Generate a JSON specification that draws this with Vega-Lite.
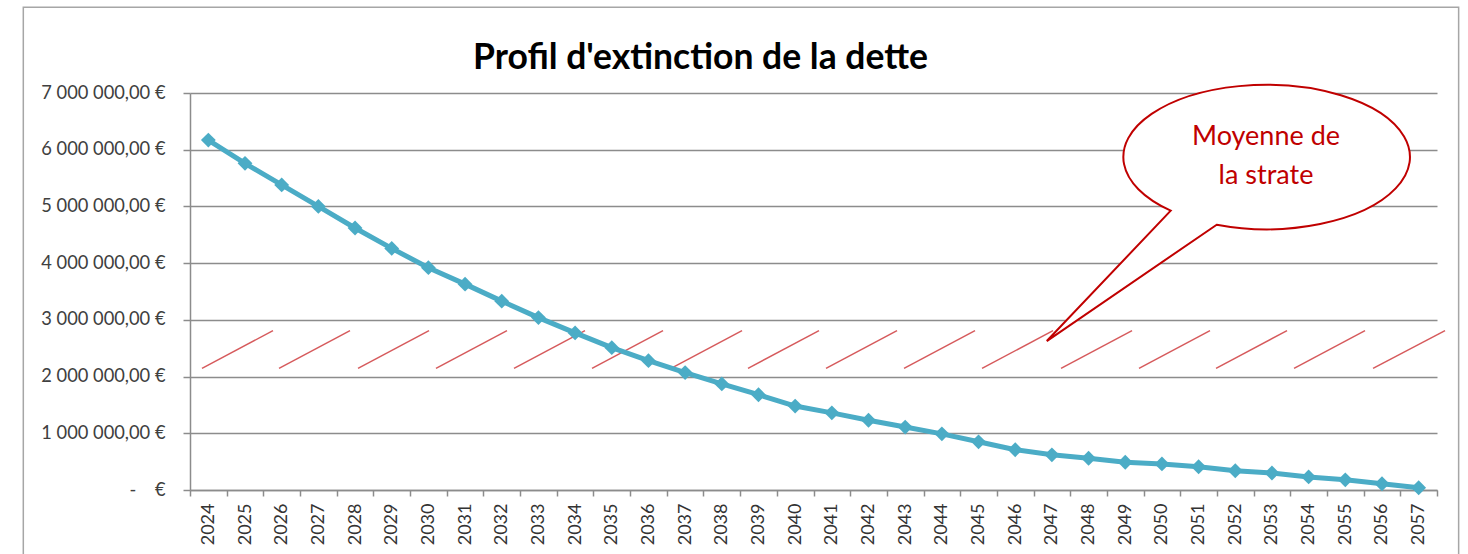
{
  "$schema": "https://vega.github.io/schema/vega-lite/v6.json",
  "width": 1247,
  "height": 397,
  "autosize": "none",
  "padding": {"left": 190, "top": 93, "right": 31, "bottom": 64},
  "background": "white",
  "config": {"view": {"stroke": null}, "font": "Lato"},
  "title": {
    "text": "Profil d'extinction de la dette",
    "font": "Lato",
    "fontSize": 35.5,
    "fontWeight": "bold",
    "color": "#000000",
    "anchor": "middle",
    "frame": "group",
    "dx": -113,
    "offset": -98,
    "baseline": "alphabetic"
  },
  "layer": [
    {
      "data": {"values": [{"left": -4.545, "right": 34.59, "top": 8510000, "bottom": -1500000}]},
      "mark": {"type": "rect", "fill": "transparent", "stroke": "#A6A6A6", "strokeWidth": 1.5, "clip": false},
      "encoding": {
        "x": {"field": "left", "type": "quantitative", "scale": {"domain": [0, 34], "nice": false, "zero": false}, "axis": null},
        "x2": {"field": "right"},
        "y": {"field": "top", "type": "quantitative", "scale": {"domain": [0, 7000000], "nice": false, "zero": false}},
        "y2": {"field": "bottom"}
      }
    },
    {
      "data": {"values": [
        {"start": 0.327, "end": 2.263},
        {"start": 2.427, "end": 4.363},
        {"start": 4.581, "end": 6.517},
        {"start": 6.707, "end": 8.643},
        {"start": 8.834, "end": 10.770},
        {"start": 10.961, "end": 12.897},
        {"start": 13.115, "end": 15.051},
        {"start": 15.214, "end": 17.150},
        {"start": 17.341, "end": 19.277},
        {"start": 19.468, "end": 21.404},
        {"start": 21.595, "end": 23.531},
        {"start": 23.749, "end": 25.685},
        {"start": 25.875, "end": 27.811},
        {"start": 27.975, "end": 29.911},
        {"start": 30.102, "end": 32.038},
        {"start": 32.256, "end": 34.219}
      ]},
      "mark": {"type": "rule", "color": "#D65A5C", "strokeWidth": 1.5, "clip": false},
      "encoding": {
        "x": {"field": "start", "type": "quantitative", "scale": {"domain": [0, 34], "nice": false, "zero": false}, "axis": null},
        "x2": {"field": "end"},
        "y": {"datum": 2146000, "type": "quantitative", "scale": {"domain": [0, 7000000], "nice": false, "zero": false}},
        "y2": {"datum": 2809000}
      }
    },
    {
      "data": {"values": [
        {"year": 2024, "value": 6170000},
        {"year": 2025, "value": 5760000},
        {"year": 2026, "value": 5380000},
        {"year": 2027, "value": 5000000},
        {"year": 2028, "value": 4620000},
        {"year": 2029, "value": 4260000},
        {"year": 2030, "value": 3920000},
        {"year": 2031, "value": 3630000},
        {"year": 2032, "value": 3330000},
        {"year": 2033, "value": 3040000},
        {"year": 2034, "value": 2770000},
        {"year": 2035, "value": 2510000},
        {"year": 2036, "value": 2280000},
        {"year": 2037, "value": 2070000},
        {"year": 2038, "value": 1870000},
        {"year": 2039, "value": 1680000},
        {"year": 2040, "value": 1480000},
        {"year": 2041, "value": 1360000},
        {"year": 2042, "value": 1230000},
        {"year": 2043, "value": 1110000},
        {"year": 2044, "value": 990000},
        {"year": 2045, "value": 850000},
        {"year": 2046, "value": 710000},
        {"year": 2047, "value": 620000},
        {"year": 2048, "value": 560000},
        {"year": 2049, "value": 490000},
        {"year": 2050, "value": 460000},
        {"year": 2051, "value": 410000},
        {"year": 2052, "value": 340000},
        {"year": 2053, "value": 300000},
        {"year": 2054, "value": 230000},
        {"year": 2055, "value": 180000},
        {"year": 2056, "value": 110000},
        {"year": 2057, "value": 40000}
      ]},
      "encoding": {
        "x": {
          "field": "year",
          "type": "ordinal",
          "scale": {"type": "band", "paddingInner": 0, "paddingOuter": 0},
          "axis": {
            "title": null,
            "labelAngle": -90,
            "labelFont": "Lato",
            "labelFontSize": 18,
            "labelColor": "#333333",
            "tickBand": "extent",
            "tickSize": 6,
            "tickColor": "#8C8C8C",
            "tickWidth": 1.5,
            "domainColor": "#8C8C8C",
            "domainWidth": 1.5,
            "grid": false,
            "labelPadding": 7
          }
        },
        "y": {
          "field": "value",
          "type": "quantitative",
          "scale": {"domain": [0, 7000000], "nice": false, "zero": false},
          "axis": {
            "title": null,
            "values": [0, 1000000, 2000000, 3000000, 4000000, 5000000, 6000000, 7000000],
            "labelExpr": "datum.value == 0 ? '-\u00a0\u00a0\u00a0\u00a0€' : (datum.value / 1000000) + ' 000 000,00 €'",
            "labelFont": "Lato",
            "labelFontSize": 18.3,
            "labelColor": "#404040",
            "grid": true,
            "gridColor": "#8C8C8C",
            "gridWidth": 1.5,
            "domainColor": "#8C8C8C",
            "domainWidth": 1.5,
            "tickColor": "#8C8C8C",
            "tickWidth": 1.5,
            "tickSize": 7,
            "labelPadding": 18
          }
        }
      },
      "layer": [
        {"mark": {"type": "line", "color": "#4BACC6", "strokeWidth": 5}},
        {"mark": {"type": "point", "shape": "diamond", "filled": true, "size": 220, "color": "#4BACC6", "opacity": 1}}
      ]
    },
    {
      "data": {"values": [{"cx": 29.338, "cy": 5868000}]},
      "mark": {
        "type": "point",
        "shape": "M-0.344,0.471 A1,0.504 0 1 0 -0.665,0.373 L-1.53,1.283 Z",
        "size": 82140,
        "filled": true,
        "fill": "white",
        "stroke": "#C00000",
        "strokeWidth": 2,
        "opacity": 1,
        "clip": false
      },
      "encoding": {
        "x": {"field": "cx", "type": "quantitative", "scale": {"domain": [0, 34], "nice": false, "zero": false}, "axis": null},
        "y": {"field": "cy", "type": "quantitative", "scale": {"domain": [0, 7000000], "nice": false, "zero": false}}
      }
    },
    {
      "data": {"values": [
        {"label": "Moyenne de", "tx": 29.338, "ty": 6224000},
        {"label": "la strate", "tx": 29.338, "ty": 5537000}
      ]},
      "mark": {"type": "text", "font": "Lato", "fontSize": 27, "color": "#C00000", "align": "center", "baseline": "middle"},
      "encoding": {
        "x": {"field": "tx", "type": "quantitative", "scale": {"domain": [0, 34], "nice": false, "zero": false}, "axis": null},
        "y": {"field": "ty", "type": "quantitative", "scale": {"domain": [0, 7000000], "nice": false, "zero": false}},
        "text": {"field": "label"}
      }
    }
  ],
  "resolve": {"scale": {"x": "independent"}}
}
